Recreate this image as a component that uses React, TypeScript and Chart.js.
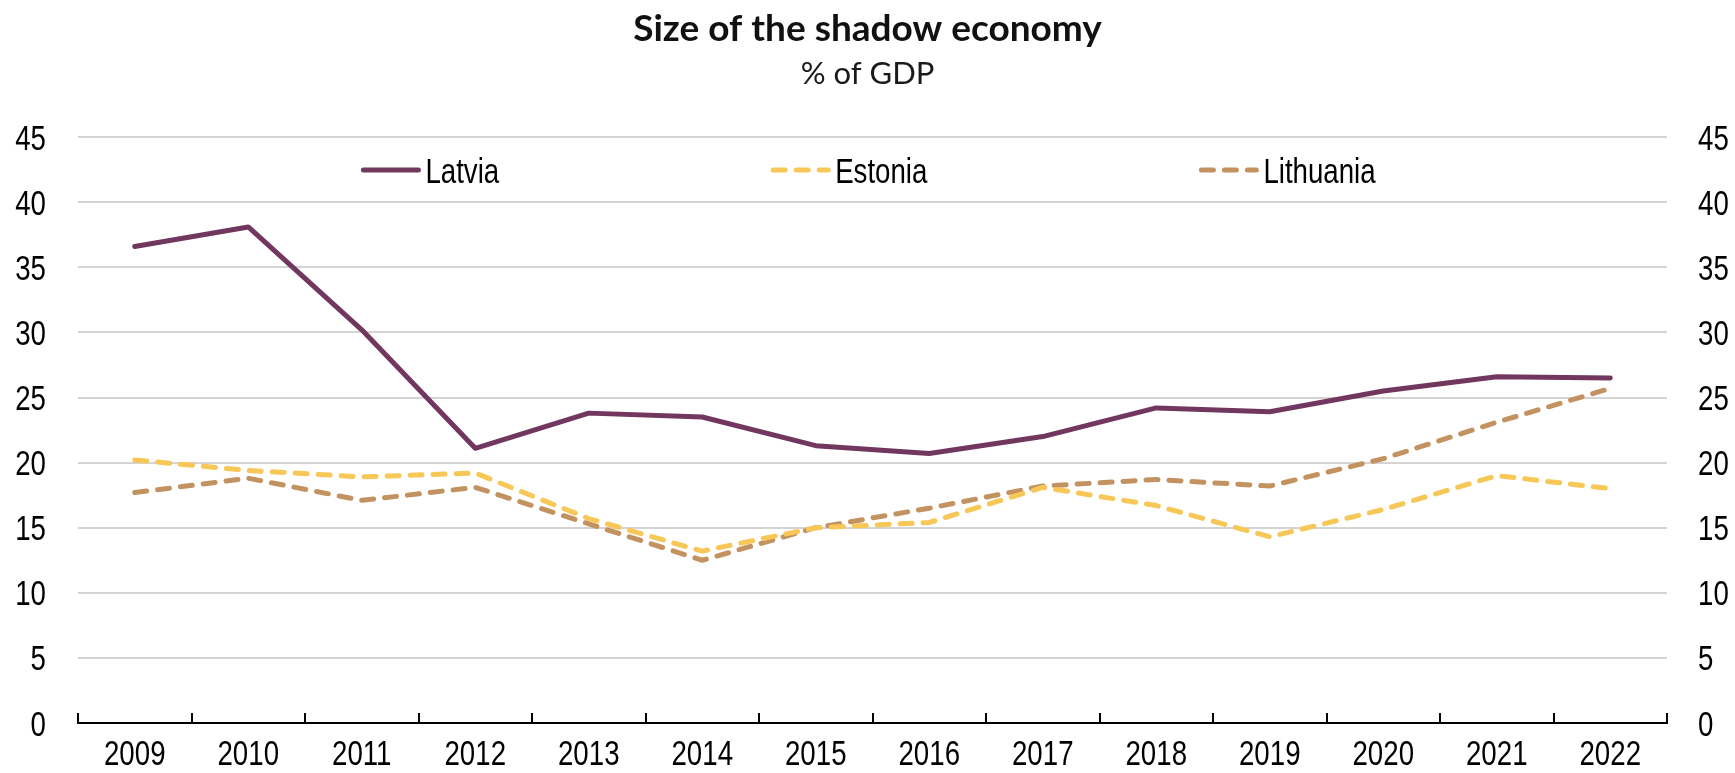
import React, { useEffect, useRef } from "react";
import { Chart, registerables } from "chart.js";

Chart.register(...registerables);

const years = ["2009", "2010", "2011", "2012", "2013", "2014", "2015", "2016", "2017", "2018", "2019", "2020", "2021", "2022"];
const latvia = [36.6, 38.1, 30.2, 21.1, 23.8, 23.5, 21.3, 20.7, 22.0, 24.2, 23.9, 25.5, 26.6, 26.5];
const estonia = [20.2, 19.4, 18.9, 19.2, 15.7, 13.2, 15.0, 15.4, 18.1, 16.7, 14.3, 16.4, 19.0, 18.0];
const lithuania = [17.7, 18.8, 17.1, 18.1, 15.3, 12.5, 15.0, 16.5, 18.2, 18.7, 18.2, 20.3, 23.1, 25.7];
const seriesNames = ["Latvia", "Estonia", "Lithuania"];
const yMin = 0;
const yMax = 45;
const yStep = 5;
const TITLE = "Size of the shadow economy";
const SUBTITLE = "% of GDP";

const LABEL_FONT = "'Liberation Sans', Arial, sans-serif";
const LABEL_SIZE = 35;
const SQUEEZE = 0.79;

function drawNarrow(ctx: any, text: string, x: number, y: number, align: string) {
  ctx.save();
  ctx.translate(x, y);
  ctx.scale(SQUEEZE, 1);
  ctx.textAlign = align;
  ctx.textBaseline = "alphabetic";
  ctx.fillText(text, 0, 0);
  ctx.restore();
}

const narrowLabels = {
  id: "narrowLabels",
  afterDraw(chart: any) {
    const ctx = chart.ctx;
    const area = chart.chartArea;
    ctx.save();
    ctx.font = `${LABEL_SIZE}px ${LABEL_FONT}`;
    ctx.fillStyle = "#000";
    const half = 0.358 * LABEL_SIZE;
    const xs = chart.scales.x;
    xs.ticks.forEach((t: any, i: number) => {
      drawNarrow(ctx, String(xs.getLabelForValue(t.value)), xs.getPixelForTick(i), area.bottom + 42, "center");
    });
    const ys = chart.scales.y;
    ys.ticks.forEach((t: any, i: number) => {
      drawNarrow(ctx, String(t.value), area.left - 32, ys.getPixelForTick(i) + half, "right");
    });
    const y2 = chart.scales.y2;
    y2.ticks.forEach((t: any, i: number) => {
      drawNarrow(ctx, String(t.value), area.right + 31, y2.getPixelForTick(i) + half, "left");
    });
    ctx.restore();
  },
};

const insideLegend = {
  id: "insideLegend",
  afterDraw(chart: any) {
    const ctx = chart.ctx;
    const area = chart.chartArea;
    ctx.save();
    ctx.font = `${LABEL_SIZE}px ${LABEL_FONT}`;
    const sample = 60;
    const textGap = 4;
    const itemGap = 272;
    const items = chart.data.datasets.map((ds: any) => ({
      ds,
      w: sample + textGap + ctx.measureText(ds.label).width * SQUEEZE,
    }));
    const total = items.reduce((s: number, it: any) => s + it.w, 0) + itemGap * (items.length - 1);
    let x = (area.left + area.right) / 2 - total / 2 - 4;
    const y = area.top + 33;
    items.forEach(({ ds, w }: any) => {
      ctx.beginPath();
      ctx.strokeStyle = ds.borderColor;
      ctx.lineWidth = ds.borderWidth;
      ctx.lineCap = "round";
      ctx.setLineDash(ds.borderDash || []);
      ctx.moveTo(x + 2, y);
      ctx.lineTo(x + sample - 3, y);
      ctx.stroke();
      ctx.setLineDash([]);
      ctx.fillStyle = "#000";
      drawNarrow(ctx, ds.label, x + sample + textGap, y + 0.358 * LABEL_SIZE, "left");
      x += w + itemGap;
    });
    ctx.restore();
  },
};

const insideTicks = {
  id: "insideTicks",
  afterDraw(chart: any) {
    const xs = chart.scales.x;
    const n = chart.data.labels.length;
    const ctx = chart.ctx;
    const bottom = chart.chartArea.bottom;
    ctx.save();
    ctx.strokeStyle = "#000";
    ctx.lineWidth = 2;
    ctx.beginPath();
    for (let i = 0; i <= n; i++) {
      const px =
        i === 0
          ? xs.left
          : i === n
          ? xs.right
          : (xs.getPixelForValue(i - 1) + xs.getPixelForValue(i)) / 2;
      const p = Math.round(px);
      ctx.moveTo(p, bottom);
      ctx.lineTo(p, bottom - 10);
    }
    ctx.stroke();
    ctx.restore();
  },
};

export default function App() {
  const ref = useRef<HTMLCanvasElement | null>(null);

  useEffect(() => {
    if (!ref.current) return;
    const gridColor = (c: any) => (c.tick && c.tick.value === 0 ? "rgba(0,0,0,0)" : "#d4d4d4");
    const lineBase = {
      borderWidth: 5,
      borderCapStyle: "round",
      borderJoinStyle: "round",
      pointRadius: 0,
      tension: 0,
      yAxisID: "y",
    };
    const chart = new Chart(ref.current, {
      type: "line",
      data: {
        labels: years,
        datasets: [
          { ...lineBase, label: seriesNames[0], data: latvia, borderColor: "#72375f", backgroundColor: "#72375f" },
          { ...lineBase, label: seriesNames[1], data: estonia, borderColor: "#f7c757", backgroundColor: "#f7c757", borderDash: [12, 11] },
          { ...lineBase, label: seriesNames[2], data: lithuania, borderColor: "#c39261", backgroundColor: "#c39261", borderDash: [12, 11] },
        ],
      },
      options: {
        animation: false,
        responsive: false,
        maintainAspectRatio: false,
        layout: { padding: 0 },
        plugins: {
          legend: { display: false },
          tooltip: { enabled: false },
          title: {
            display: true,
            text: TITLE,
            color: "#111",
            font: { family: "Lato", size: 37, weight: "bold", lineHeight: 1.2 },
            padding: { top: 7, bottom: 0 },
          },
          subtitle: {
            display: true,
            text: SUBTITLE,
            color: "#1a1a1a",
            font: { family: "Lato", size: 31, weight: "normal", lineHeight: 1.2 },
            padding: { top: 4.2, bottom: 44.3 },
          },
        },
        scales: {
          x: {
            type: "category",
            offset: true,
            grid: { display: true, drawOnChartArea: false, drawTicks: false, offset: true },
            border: { display: true, color: "#000", width: 2 },
            ticks: { display: false, autoSkip: false, maxRotation: 0 },
            afterFit(scale: any) {
              scale.height = 50;
            },
          },
          y: {
            position: "left",
            min: yMin,
            max: yMax,
            grid: { color: gridColor, lineWidth: 2, drawTicks: false },
            border: { display: false },
            ticks: { display: false, stepSize: yStep },
            afterFit(scale: any) {
              scale.width = 78;
            },
          },
          y2: {
            position: "right",
            display: true,
            min: yMin,
            max: yMax,
            grid: { display: false, drawTicks: false },
            border: { display: false },
            ticks: { display: false, stepSize: yStep },
            afterFit(scale: any) {
              scale.width = 68;
            },
          },
        },
      },
      plugins: [insideLegend, insideTicks, narrowLabels],
    } as any);
    return () => chart.destroy();
  }, []);

  return (
    <div style={{ position: "absolute", left: 0, top: 0, width: 1735, height: 773, background: "#fff" }}>
      <canvas ref={ref} width={1735} height={773} style={{ width: 1735, height: 773, display: "block" }} />
    </div>
  );
}
